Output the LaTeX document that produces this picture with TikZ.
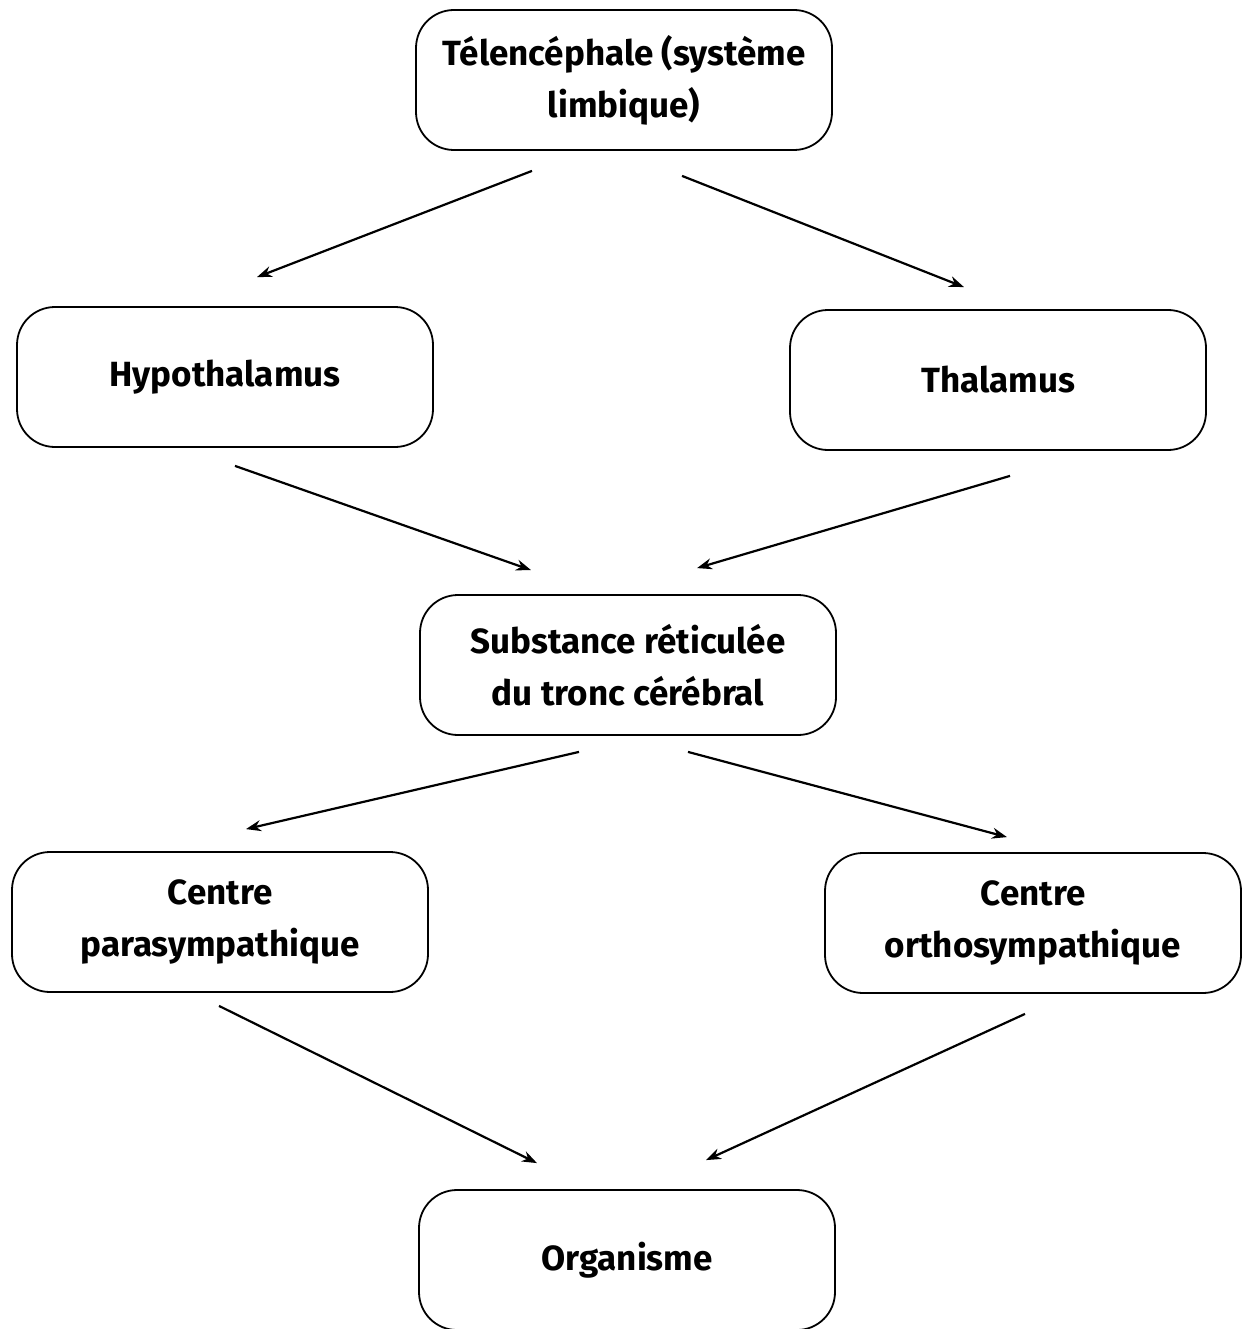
\documentclass[tikz,border=0pt]{standalone}
\usepackage{fontspec}
\setmainfont{Fira Sans}
\usetikzlibrary{arrows.meta, calc, positioning}

\begin{document}
\begin{tikzpicture}[x=1pt, y=-1pt, >={Stealth[length=15pt, width=11pt]},
    block/.style={draw, line width=1.8pt, rounded corners=38pt, minimum width=416pt,
        minimum height=140pt, align=center, font=\bfseries\fontsize{35}{52}\selectfont},
    link/.style={->, line width=2.2pt}]
    \useasboundingbox (0,0) rectangle (1241,1329);

    % Boxes
    \node[block] (tel) at (624,80) {Télencéphale (système\\limbique)};
    \node[block] (hyp) at (225,377) {Hypothalamus};
    \node[block] (thal) at (998,380) {Thalamus};
    \node[block] (sub) at (628,665) {Substance réticulée\\du tronc cérébral};
    \node[block] (para) at (220,922) {Centre\\parasympathique};
    \node[block] (ortho) at (1033,923) {Centre\\orthosympathique};
    \node[block] (org) at (627,1260) {Organisme};

    % Arrows
    \draw[link] ($(tel.south)+(-92,20)$) -- ($(hyp.north)+(32,-29)$);
    \draw[link] ($(tel.south)+(58,25)$) -- ($(thal.north)+(-34,-22)$);
    \draw[link] ($(hyp.south)+(10,18)$) -- ($(sub.north)+(-97,-24)$);
    \draw[link] ($(thal.south)+(12,25)$) -- ($(sub.north)+(69,-26)$);
    \draw[link] ($(sub.south)+(-49,16)$) -- ($(para.north)+(26,-22)$);
    \draw[link] ($(sub.south)+(60,16)$) -- ($(ortho.north)+(-26,-15)$);
    \draw[link] ($(para.south)+(-1,13)$) -- ($(org.north)+(-90,-26)$);
    \draw[link] ($(ortho.south)+(-8,20)$) -- ($(org.north)+(79,-29)$);
\end{tikzpicture}
\end{document}
